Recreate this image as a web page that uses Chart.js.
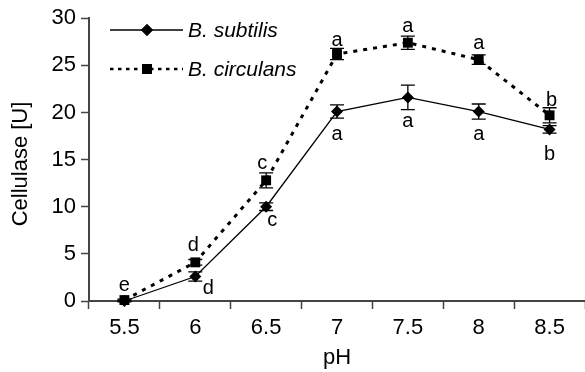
<!DOCTYPE html>
<html>
<head>
<meta charset="UTF-8">
<title>Cellulase vs pH</title>
<script src="https://cdn.jsdelivr.net/npm/chart.js@4.4.0/dist/chart.umd.min.js"></script>
<style>
    body { margin: 0; background: #ffffff; overflow: hidden; }
    /* a bit wider than the window so the x axis runs off the right edge */
    .chart-box { width: 592px; height: 372px; position: relative; }
</style>
</head>
<body>
<div class="chart-box"><canvas id="phChart"></canvas></div>
<script>
// data
const phLabels = ['5.5', '6', '6.5', '7', '7.5', '8', '8.5'];
const subtilis = [0, 2.6, 10.0, 20.1, 21.6, 20.1, 18.2];
const subtilisErr = [0.1, 0.5, 0.4, 0.7, 1.3, 0.8, 0.4];
const subtilisLetters = ['', 'd', 'c', 'a', 'a', 'a', 'b'];
const circulans = [0.1, 4.1, 12.8, 26.2, 27.4, 25.6, 19.7];
const circulansErr = [0.1, 0.3, 0.8, 0.6, 0.7, 0.5, 0.8];
const circulansLetters = ['e', 'd', 'c', 'a', 'a', 'a', 'b'];
const yMin = 0, yMax = 30, yStep = 5;

// letter offsets in px from the marker (style only)
const subOffsets = [[0, 0], [13, 12], [6, 14], [0, 23], [0, 24], [0, 23], [0, 25]];
const cirOffsets = [[0, -15], [-2, -17], [-4, -17], [0, -14], [0, -16], [0, -16], [2, -15]];

const FONT = '"Liberation Sans", Arial, Helvetica, sans-serif';

const errorBars = {
    id: 'errorBars',
    beforeDatasetsDraw(chart) {
        const ctx = chart.ctx;
        const y = chart.scales.y;
        const sets = [[subtilis, subtilisErr], [circulans, circulansErr]];
        ctx.save();
        ctx.strokeStyle = '#000';
        ctx.lineWidth = 1.3;
        sets.forEach(([vals, errs], di) => {
            const meta = chart.getDatasetMeta(di);
            vals.forEach((v, i) => {
                const px = meta.data[i].x;
                const top = y.getPixelForValue(v + errs[i]);
                const bot = y.getPixelForValue(v - errs[i]);
                ctx.beginPath();
                ctx.moveTo(px, top); ctx.lineTo(px, bot);
                ctx.moveTo(px - 7, top); ctx.lineTo(px + 7, top);
                ctx.moveTo(px - 7, bot); ctx.lineTo(px + 7, bot);
                ctx.stroke();
            });
        });
        ctx.restore();
    }
};

const letters = {
    id: 'letters',
    afterDatasetsDraw(chart) {
        const ctx = chart.ctx;
        ctx.save();
        ctx.fillStyle = '#000';
        ctx.font = '20px ' + FONT;
        ctx.textAlign = 'center';
        ctx.textBaseline = 'middle';
        [[subtilisLetters, subOffsets], [circulansLetters, cirOffsets]].forEach(([lts, offs], di) => {
            const meta = chart.getDatasetMeta(di);
            lts.forEach((t, i) => {
                if (!t) return;
                const p = meta.data[i];
                ctx.fillText(t, p.x + offs[i][0], p.y + offs[i][1]);
            });
        });
        ctx.restore();
    }
};

// legend with line + marker samples, top left inside the plot; y title drawn here too
const sampleLegend = {
    id: 'sampleLegend',
    afterDraw(chart) {
        const ctx = chart.ctx;
        const rows = [
            { text: 'B. subtilis', y: 30, dash: [], width: 1.3, style: 'rectRot', r: 6 },
            { text: 'B. circulans', y: 69, dash: [3.5, 4.5], width: 2.5, style: 'rect', r: 7 }
        ];
        ctx.save();
        rows.forEach(row => {
            ctx.strokeStyle = '#000';
            ctx.lineWidth = row.width;
            ctx.setLineDash(row.dash);
            ctx.beginPath();
            ctx.moveTo(110, row.y); ctx.lineTo(183, row.y);
            ctx.stroke();
            ctx.setLineDash([]);
            Chart.helpers.drawPoint(ctx, { pointStyle: row.style, radius: row.r, borderWidth: 0 }, 147, row.y);
            ctx.fillStyle = '#000';
            ctx.fill();
            ctx.font = 'italic 21px ' + FONT;
            ctx.textAlign = 'left';
            ctx.textBaseline = 'middle';
            ctx.fillText(row.text, 188, row.y + 1);
        });

        ctx.translate(21, 164);
        ctx.rotate(-Math.PI / 2);
        ctx.font = '22px ' + FONT;
        ctx.textAlign = 'center';
        ctx.textBaseline = 'middle';
        ctx.fillText('Cellulase [U]', 0, 0);
        ctx.restore();
    }
};

Chart.defaults.font.family = FONT;
Chart.defaults.color = '#000';

new Chart(document.getElementById('phChart'), {
    type: 'line',
    data: {
        labels: phLabels,
        datasets: [
            {
                label: 'B. subtilis',
                data: subtilis,
                borderColor: '#000',
                borderWidth: 1.3,
                pointStyle: 'rectRot',
                pointRadius: 6,
                pointBackgroundColor: '#000',
                pointBorderWidth: 0,
                tension: 0,
                clip: false
            },
            {
                label: 'B. circulans',
                data: circulans,
                borderColor: '#000',
                borderWidth: 3,
                borderDash: [4, 6],
                pointStyle: 'rect',
                pointRadius: 7,
                pointBackgroundColor: '#000',
                pointBorderWidth: 0,
                tension: 0,
                clip: false
            }
        ]
    },
    options: {
        responsive: true,
        maintainAspectRatio: false,
        animation: false,
        layout: { padding: { top: 16, right: 0, left: 0, bottom: 0 } },
        plugins: {
            legend: { display: false },
            tooltip: { enabled: false }
        },
        scales: {
            x: {
                offset: true,
                grid: {
                    offset: true,
                    drawOnChartArea: false,
                    tickLength: 8,
                    tickColor: '#444',
                    tickWidth: 1.5
                },
                border: { color: '#444', width: 2 },
                ticks: { font: { size: 22 }, padding: 6, maxRotation: 0 },
                title: { display: true, text: 'pH', font: { size: 22 }, padding: { top: 0, bottom: 1 } },
                afterFit(scale) { scale.height = 71; }
            },
            y: {
                min: yMin,
                max: yMax,
                ticks: { stepSize: yStep, font: { size: 22 }, padding: 5 },
                grid: {
                    drawOnChartArea: false,
                    tickLength: 8,
                    tickColor: '#444',
                    tickWidth: 1.5
                },
                border: { color: '#444', width: 2 },
                afterFit(scale) { scale.width = 89; }
            }
        }
    },
    plugins: [errorBars, letters, sampleLegend]
});
</script>
</body>
</html>
